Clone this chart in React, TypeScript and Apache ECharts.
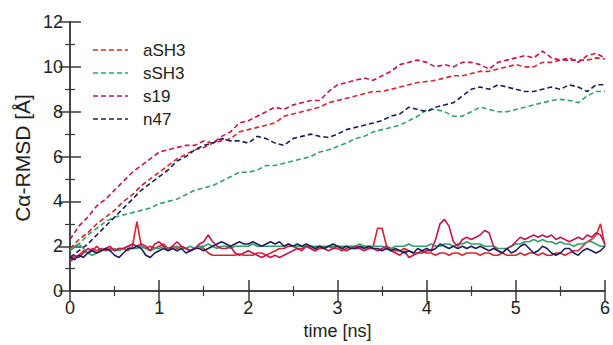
import React, { useEffect, useRef } from "react";
import * as echarts from "echarts";

// Dashed curves sampled every 0.1 ns (0 .. 6)
const aSH3Dashed = [1.9, 2.3, 2.6, 3.0, 3.3, 3.6, 4.0, 4.3, 4.7, 5.0, 5.3, 5.6, 5.9, 6.1, 6.3, 6.4, 6.6, 6.7, 6.8, 7.1, 7.2, 7.3, 7.4, 7.5, 7.8, 7.9, 8.0, 8.1, 8.2, 8.4, 8.5, 8.6, 8.7, 8.8, 8.9, 8.9, 9.0, 9.1, 9.2, 9.3, 9.35, 9.4, 9.5, 9.6, 9.6, 9.7, 9.8, 9.8, 9.9, 10.0, 10.1, 10.0, 10.0, 10.2, 10.2, 10.3, 10.3, 10.3, 10.3, 10.4, 10.35];
const sSH3Dashed = [1.8, 2.1, 2.5, 2.8, 3.1, 3.3, 3.4, 3.5, 3.6, 3.7, 3.9, 4.0, 4.1, 4.3, 4.5, 4.6, 4.7, 4.9, 5.1, 5.3, 5.3, 5.4, 5.6, 5.6, 5.7, 5.8, 5.9, 6.0, 6.2, 6.3, 6.45, 6.6, 6.8, 6.9, 7.1, 7.2, 7.3, 7.4, 7.6, 7.8, 8.1, 8.1, 8.0, 7.8, 7.8, 8.0, 8.2, 8.1, 8.0, 8.0, 8.1, 8.2, 8.3, 8.4, 8.5, 8.55, 8.5, 8.4, 8.7, 8.9, 8.9];
const s19Dashed = [2.3, 2.9, 3.3, 3.8, 4.1, 4.5, 4.9, 5.3, 5.6, 5.9, 6.2, 6.3, 6.4, 6.5, 6.5, 6.7, 6.6, 6.9, 7.1, 7.5, 7.6, 7.8, 8.0, 8.2, 8.1, 8.3, 8.4, 8.5, 8.5, 8.9, 9.2, 9.3, 9.4, 9.5, 9.4, 9.6, 9.8, 10.1, 10.2, 10.3, 10.2, 10.0, 10.1, 10.0, 10.2, 10.2, 10.1, 9.9, 10.2, 10.3, 10.4, 10.5, 10.4, 10.7, 10.4, 10.3, 10.4, 10.2, 10.5, 10.6, 10.4];
const n47Dashed = [1.5, 1.8, 2.1, 2.5, 2.9, 3.3, 3.7, 4.1, 4.5, 4.8, 5.1, 5.4, 5.8, 6.0, 6.3, 6.5, 6.6, 6.8, 6.7, 6.7, 6.6, 6.9, 6.8, 6.6, 6.5, 6.8, 6.9, 7.0, 6.9, 6.85, 7.0, 7.2, 7.3, 7.4, 7.5, 7.6, 7.8, 7.9, 8.2, 8.1, 8.0, 8.2, 8.3, 8.4, 8.7, 9.0, 9.1, 9.0, 9.2, 9.1, 9.0, 8.9, 8.9, 9.0, 9.1, 9.0, 9.2, 9.1, 8.9, 9.2, 9.2];

// Solid curves sampled every 0.05 ns (0 .. 6)
const aSH3Solid = [1.3, 1.5, 1.6, 1.8, 1.7, 1.9, 1.8, 1.9, 1.8, 1.9, 1.8, 1.9, 1.9, 1.8, 2.0, 3.1, 2.0, 1.9, 2.0, 1.9, 2.0, 2.1, 1.9, 2.0, 1.9, 2.0, 1.9, 1.8, 1.9, 2.0, 1.9, 1.7, 1.6, 1.6, 1.6, 1.6, 1.6, 1.6, 1.65, 1.6, 1.6, 1.6, 1.7, 1.7, 1.6, 1.7, 1.8, 1.9, 1.9, 2.0, 2.0, 1.9, 1.9, 2.0, 1.9, 1.8, 1.9, 1.9, 2.0, 1.9, 1.9, 1.8, 1.9, 2.0, 1.9, 1.9, 2.0, 1.9, 2.0, 2.8, 2.8, 2.0, 1.9, 1.8, 1.8, 1.9, 1.8, 1.7, 1.7, 1.8, 1.7, 1.7, 1.6, 1.7, 1.7, 1.6, 1.7, 1.7, 1.6, 1.7, 1.7, 1.7, 1.6, 1.7, 1.7, 1.6, 1.6, 1.7, 1.6, 1.6, 1.6, 1.7, 1.6, 1.7, 1.7, 1.6, 1.7, 1.6, 1.6, 1.7, 1.7, 1.6, 1.7, 1.8, 1.8, 2.0, 2.2, 2.3, 2.5, 3.0, 2.0];
const sSH3Solid = [1.8, 2.0, 2.1, 1.9, 1.7, 1.6, 1.7, 1.8, 1.9, 1.8, 1.9, 1.8, 1.9, 2.0, 1.9, 1.9, 2.0, 1.9, 1.8, 1.9, 1.9, 2.0, 1.9, 1.9, 2.0, 1.9, 1.9, 2.0, 1.9, 2.0, 2.0, 2.1, 2.0, 1.9, 2.0, 2.0, 1.9, 2.0, 2.0, 2.0, 2.0, 2.1, 2.0, 2.0, 2.0, 2.0, 2.0, 2.0, 2.0, 2.1, 2.0, 2.0, 2.0, 2.0, 2.0, 2.0, 2.0, 2.0, 2.0, 2.0, 2.0, 2.0, 2.0, 2.0, 2.0, 2.1, 2.0, 2.0, 2.0, 2.0, 2.0, 1.9, 1.9, 2.0, 2.0, 2.0, 2.1, 2.0, 2.0, 2.0, 2.0, 2.1, 2.0, 2.0, 2.1, 2.1, 2.0, 2.1, 2.1, 2.2, 2.1, 2.1, 2.1, 2.0, 2.0, 2.0, 1.9, 1.9, 1.9, 2.0, 2.1, 2.1, 2.2, 2.2, 2.3, 2.2, 2.3, 2.2, 2.2, 2.1, 2.2, 2.1, 2.1, 2.0, 2.1, 2.1, 2.2, 2.2, 2.1, 2.0, 2.0];
const s19Solid = [1.4, 1.6, 1.5, 1.7, 1.9, 1.8, 2.0, 1.8, 1.9, 2.0, 1.8, 1.9, 1.9, 2.0, 2.1, 2.0, 2.1, 2.0, 1.8, 2.1, 2.2, 2.0, 1.8, 2.0, 2.2, 2.0, 1.9, 1.8, 1.9, 2.1, 2.2, 2.5, 2.2, 2.0, 1.9, 1.9, 2.0, 1.7, 1.6, 1.7, 1.8, 1.7, 1.6, 1.5, 1.6, 1.5, 1.6, 1.5, 1.6, 1.7, 1.8, 1.9, 1.8, 2.0, 1.9, 1.8, 2.0, 1.9, 1.8, 1.9, 2.0, 1.9, 1.8, 1.9, 2.0, 1.9, 1.8, 1.9, 1.9, 1.8, 1.9, 2.0, 1.8, 1.7, 1.6, 1.8, 1.5, 1.6, 1.7, 1.7, 1.8, 1.8, 2.3, 3.0, 3.2, 2.9, 2.2, 2.0, 2.3, 2.4, 2.3, 2.4, 2.5, 2.7, 2.6, 2.0, 1.8, 1.7, 1.9, 2.0, 2.2, 2.4, 2.3, 2.4, 2.5, 2.4, 2.5, 2.4, 2.5, 2.3, 2.4, 2.3, 2.2, 2.3, 2.4, 2.3, 2.5, 2.4, 2.6, 2.5, 2.1];
const n47Solid = [1.5, 1.4, 1.6, 1.5, 1.7, 1.8, 1.7, 1.8, 1.9, 1.8, 1.6, 1.5, 1.7, 1.9, 1.9, 2.0, 1.9, 1.6, 1.5, 1.7, 1.8, 1.9, 1.8, 1.9, 1.8, 1.9, 1.7, 1.8, 1.9, 1.9, 1.8, 1.9, 2.0, 2.1, 2.2, 2.1, 2.0, 2.1, 2.2, 2.1, 2.1, 2.2, 2.1, 2.0, 2.1, 2.2, 2.1, 2.2, 2.0, 2.1, 2.0, 2.1, 2.0, 2.1, 2.0, 1.9, 2.0, 1.9, 2.0, 2.1, 2.0, 1.9, 2.0, 1.9, 1.9, 2.0, 1.9, 2.0, 1.9, 1.9, 1.8, 1.9, 1.8, 1.9, 1.8, 1.7, 1.8, 1.7, 1.9, 1.8, 1.9, 1.8, 1.9, 2.1, 2.0, 1.9, 2.0, 1.9, 2.0, 1.9, 2.0, 1.9, 2.0, 1.9, 1.8, 1.9, 1.8, 1.7, 1.9, 1.7, 1.8, 2.0, 2.1, 1.9, 1.7, 1.8, 2.0, 1.9, 1.7, 1.6, 1.7, 1.9, 1.9, 1.7, 1.6, 1.8, 1.9, 1.8, 1.7, 1.8, 2.0];

const legendNames = ["aSH3", "sSH3", "s19", "n47"];
const seriesColors = ["#d9262e", "#35a06a", "#c8144f", "#1c1f5c"];
const xTicks = [0, 1, 2, 3, 4, 5, 6];
const yTicks = [0, 2, 4, 6, 8, 10, 12];
const xAxisTitle = "time [ns]";
const yAxisTitle = "Cα-RMSD [Å]";

const pairs = (vals: number[], step: number) =>
  vals.map((v, i) => [Number((i * step).toFixed(2)), v]);

export default function App() {
  const ref = useRef<HTMLDivElement>(null);
  useEffect(() => {
    if (!ref.current) return;
    const chart = echarts.init(ref.current, null, { renderer: "svg" });
    const font = "Liberation Sans, Arial, Helvetica, sans-serif";
    const dashed = [aSH3Dashed, sSH3Dashed, s19Dashed, n47Dashed];
    const solid = [aSH3Solid, sSH3Solid, s19Solid, n47Solid];
    const series: any[] = [];
    dashed.forEach((d, i) => {
      series.push({
        name: legendNames[i],
        type: "line",
        data: pairs(d, 0.1),
        showSymbol: false,
        symbol: "none",
        color: seriesColors[i],
        lineStyle: { width: 1.6, type: [5, 3], color: seriesColors[i] },
        z: 2,
      });
    });
    solid.forEach((d, i) => {
      series.push({
        name: legendNames[i] + " solid",
        type: "line",
        data: pairs(d, 0.05),
        showSymbol: false,
        symbol: "none",
        color: seriesColors[i],
        lineStyle: { width: 1.6, type: "solid", color: seriesColors[i] },
        z: 3,
      });
    });

    // Legend drawn as graphic elements (dashed line samples + labels)
    const legendGraphics: any[] = [];
    legendNames.forEach((name, i) => {
      const y = 50 + i * 23;
      legendGraphics.push({
        type: "line",
        shape: { x1: 93, y1: y, x2: 128, y2: y },
        style: { stroke: seriesColors[i], lineWidth: 1.6, lineDash: [5, 3] },
      });
      legendGraphics.push({
        type: "text",
        x: 143,
        y,
        style: {
          text: name,
          fontSize: 17,
          fill: "#222",
          fontFamily: font,
          textAlign: "left",
          textVerticalAlign: "middle",
        },
      });
    });

    const axisLine = { show: true, lineStyle: { color: "#3a3a3a", width: 1.5 } };
    const tick = { show: true, inside: true, length: 11, lineStyle: { color: "#3a3a3a", width: 1.5 } };
    const minor = { show: true, splitNumber: 2, length: 5, lineStyle: { color: "#3a3a3a", width: 1.2 } };
    const labelStyle = { fontSize: 18, color: "#222", fontFamily: font };
    chart.setOption({
      animation: false,
      backgroundColor: "#ffffff",
      grid: { left: 70, right: 7, top: 22, bottom: 50 },
      xAxis: [
        {
          type: "value",
          min: 0,
          max: 6,
          interval: 1,
          position: "bottom",
          axisLine,
          axisTick: tick,
          minorTick: minor,
          splitLine: { show: false },
          axisLabel: { ...labelStyle, margin: 8, formatter: (v: number) => (xTicks.includes(v) ? String(v) : "") },
          name: xAxisTitle,
          nameLocation: "middle",
          nameGap: 29,
          nameTextStyle: { fontSize: 18, color: "#222", fontFamily: font },
        },
        {
          type: "value",
          min: 0,
          max: 6,
          interval: 1,
          position: "top",
          axisLine,
          axisTick: tick,
          minorTick: minor,
          splitLine: { show: false },
          axisLabel: { show: false },
        },
      ],
      yAxis: [
        {
          type: "value",
          min: 0,
          max: 12,
          interval: 2,
          position: "left",
          axisLine,
          axisTick: tick,
          minorTick: minor,
          splitLine: { show: false },
          axisLabel: { ...labelStyle, margin: 7, formatter: (v: number) => (yTicks.includes(v) ? String(v) : "") },
        },
        {
          type: "value",
          min: 0,
          max: 12,
          interval: 2,
          position: "right",
          axisLine,
          axisTick: tick,
          minorTick: minor,
          splitLine: { show: false },
          axisLabel: { show: false },
        },
      ],
      graphic: [
        {
          type: "text",
          x: 22,
          y: 158,
          rotation: Math.PI / 2,
          style: {
            text: yAxisTitle,
            fontSize: 21,
            fill: "#222",
            fontFamily: font,
            textAlign: "center",
            textVerticalAlign: "middle",
          },
        },
        ...legendGraphics,
      ],
      series,
    });
    return () => chart.dispose();
  }, []);
  return (
    <div
      ref={ref}
      style={{ position: "fixed", left: 0, top: 0, width: 613, height: 345, background: "#fff" }}
    />
  );
}
